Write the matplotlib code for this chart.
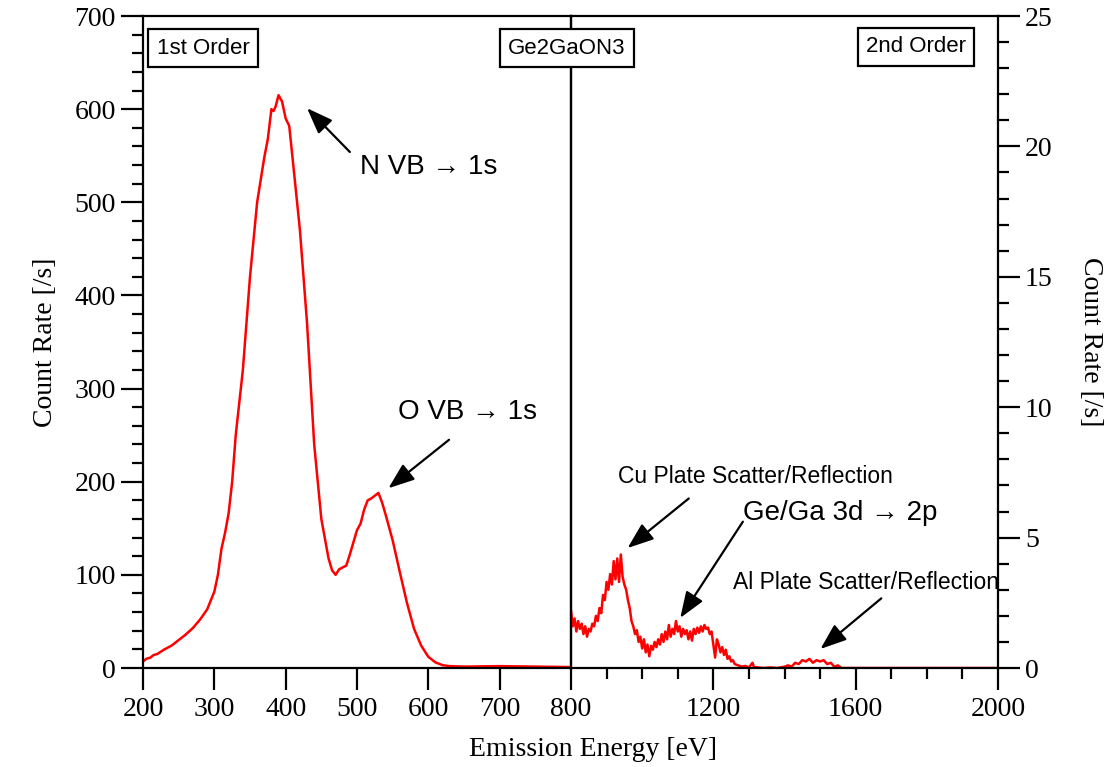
import matplotlib
matplotlib.use('Agg')
import matplotlib.pyplot as plt
from matplotlib.ticker import MultipleLocator, FixedLocator

# 1st order spectrum, read on the left axis (200-800 eV)
energy_1st = [200, 205, 210, 215, 220, 230, 240, 250, 260, 270, 280, 290, 300, 305, 310,
              315, 320, 325, 330, 340, 350, 360, 370, 375, 380, 383, 386, 390, 395, 400,
              405, 410, 420, 430, 440, 450, 460, 465, 470, 475, 480, 485, 490, 500, 505,
              510, 515, 520, 525, 530, 535, 540, 550, 560, 570, 580, 590, 600, 610, 620,
              630, 650, 700, 750, 800]
rate_1st = [7, 10, 11, 14, 15, 20, 24, 30, 36, 43, 52, 63, 82, 100, 128,
            145, 166, 200, 250, 320, 420, 500, 548, 568, 600, 598, 603, 615, 608, 590,
            582, 545, 470, 370, 240, 160, 118, 105, 100, 106, 108, 110, 122, 148, 155,
            170, 180, 182, 185, 188, 178, 165, 137, 103, 70, 42, 24, 12, 6, 3,
            2, 1.5, 2, 1.5, 1]

# 2nd order spectrum, read on the right axis (800-2000 eV)
energy_2nd = [800, 805, 810, 815, 820, 825, 830, 835, 840, 845, 850, 855, 860, 865, 870,
              875, 880, 885, 890, 895, 900, 905, 910, 915, 920, 925, 930, 935, 940, 945,
              950, 955, 960, 965, 970, 975, 980, 985, 990, 995, 1000, 1005, 1010, 1015, 1020,
              1025, 1030, 1035, 1040, 1045, 1050, 1055, 1060, 1065, 1070, 1075, 1080, 1085, 1090, 1095,
              1100, 1105, 1110, 1115, 1120, 1125, 1130, 1135, 1140, 1145, 1150, 1155, 1160, 1165, 1170,
              1175, 1180, 1185, 1190, 1195, 1200, 1205, 1210, 1215, 1220, 1225, 1230, 1235, 1240, 1245,
              1250, 1255, 1260, 1270, 1280, 1290, 1300, 1310, 1315, 1320, 1340, 1360, 1380, 1400, 1410,
              1420, 1430, 1440, 1450, 1460, 1470, 1480, 1490, 1500, 1510, 1520, 1530, 1540, 1550, 1560,
              1600, 2000]
rate_2nd = [2.2, 1.6, 1.9, 1.4, 1.8, 1.5, 1.7, 1.3, 1.6, 1.2, 1.5, 1.4, 1.7, 1.6, 2.0,
            1.8, 2.3, 2.1, 2.8, 2.6, 3.3, 3.0, 3.6, 3.2, 4.1, 3.4, 4.2, 3.3, 4.35, 3.5,
            3.2, 3.0, 2.6, 2.3, 1.8, 1.6, 1.3, 1.45, 1.0, 1.2, 0.75, 1.1, 0.6, 0.9, 0.45,
            0.85, 0.7, 1.0, 0.8, 1.1, 0.9, 1.3, 1.0, 1.4, 1.1, 1.65, 1.2, 1.5, 1.3, 1.8,
            1.4, 1.6, 1.2, 1.5, 1.3, 1.45, 1.1, 1.4, 1.05, 1.5, 1.3, 1.55, 1.35, 1.6, 1.4,
            1.65, 1.5, 1.55, 1.3, 1.4, 0.9, 0.4, 1.1, 0.9, 0.6, 0.8, 0.5, 0.7, 0.35, 0.45,
            0.25, 0.3, 0.15, 0.1, 0.05, 0.08, 0.02, 0.2, 0.0, 0.03, 0.0, 0.02, 0.0, 0.05, 0.1,
            0.05, 0.2, 0.15, 0.3, 0.25, 0.35, 0.2, 0.3, 0.25, 0.3, 0.15, 0.2, 0.05, 0.1, 0.0,
            0.0, 0.0]

# annotations: (text, text pos, arrow tail, arrow tip, fontsize)
notes_1st = [("N VB \u2192 1s", (504, 538), (490, 554), (430, 601), 20),
             ("O VB \u2192 1s", (558, 275), (629, 245), (544, 193), 20)]
notes_2nd = [("Cu Plate Scatter/Reflection", (931, 7.36), (1131, 6.5), (959, 4.6), 16.5),
             ("Ge/Ga 3d \u2192 2p", (1283, 5.94), (1283, 5.61), (1107, 1.92), 20),
             ("Al Plate Scatter/Reflection", (1254, 3.26), (1672, 2.67), (1501, 0.73), 16.5)]

serif = 'Liberation Serif'
sans = ['Liberation Sans', 'DejaVu Sans']
red = '#ff0000'

W, H = 1120, 767
fig = plt.figure(figsize=(W / 100, H / 100), dpi=100)
x0, xm, x1 = 143, 571, 998
ytop, ybot = 16, 668
ax1 = fig.add_axes([x0 / W, 1 - ybot / H, (xm - x0) / W, (ybot - ytop) / H])
ax2 = fig.add_axes([xm / W, 1 - ybot / H, (x1 - xm) / W, (ybot - ytop) / H])
ax2.patch.set_visible(False)

ax1.plot(energy_1st, rate_1st, color=red, lw=1.8)
ax2.plot(energy_2nd, rate_2nd, color=red, lw=1.8)

ax1.set_xlim(200, 800)
ax1.set_ylim(0, 700)
ax2.set_xlim(800, 2000)
ax2.set_ylim(0, 25)

for ax in (ax1, ax2):
    for s in ax.spines.values():
        s.set_linewidth(1.6)

ax1.xaxis.set_major_locator(MultipleLocator(100))
ax1.yaxis.set_major_locator(MultipleLocator(100))
ax1.yaxis.set_minor_locator(MultipleLocator(20))
ax1.tick_params(axis='both', which='major', direction='out', length=16, width=1.6,
                labelsize=20, top=False, right=False)
ax1.tick_params(axis='x', pad=5)
ax1.tick_params(axis='y', which='minor', direction='out', length=8, width=1.6)

ax2.xaxis.set_major_locator(FixedLocator([1200, 1600, 2000]))
ax2.xaxis.set_minor_locator(FixedLocator([900, 1000, 1100, 1300, 1400, 1500, 1700, 1800, 1900]))
ax2.yaxis.set_major_locator(MultipleLocator(5))
ax2.yaxis.set_minor_locator(MultipleLocator(1))
ax2.yaxis.tick_right()
ax2.tick_params(axis='both', which='major', direction='out', length=16, width=1.6,
                labelsize=20, left=False, top=False)
ax2.tick_params(axis='x', pad=5)
ax2.tick_params(axis='both', which='minor', direction='out', length=8, width=1.6,
                left=False, top=False)

for ax in (ax1, ax2):
    for lab in ax.get_xticklabels() + ax.get_yticklabels():
        lab.set_fontfamily(serif)

ax1.set_ylabel("Count Rate [/s]", fontsize=20, fontfamily=serif, labelpad=12)
ax2.yaxis.set_label_position('right')
ax2.set_ylabel("Count Rate [/s]", fontsize=20, fontfamily=serif, rotation=270, labelpad=36)
fig.text(593 / W, 1 - 750 / H, "Emission Energy [eV]", fontsize=20, fontfamily=serif,
         ha='center', va='center')

arrow = dict(arrowstyle='-|>,head_length=0.8,head_width=0.3', color='black', lw=1.6,
             mutation_scale=20, shrinkA=0, shrinkB=0)
for ax, notes in ((ax1, notes_1st), (ax2, notes_2nd)):
    for txt, tpos, tail, tip, fs in notes:
        ax.text(tpos[0], tpos[1], txt, fontsize=fs, fontfamily=sans, va='center', ha='left',
                clip_on=False, zorder=6)
        ax.annotate('', xy=tip, xytext=tail, arrowprops=arrow, annotation_clip=False)

box = dict(boxstyle='square,pad=0.38', facecolor='white', edgecolor='black', lw=1.6)
for txt, px, py in (("1st Order", 203, 48), ("Ge2GaON3", 567, 48), ("2nd Order", 916, 47)):
    fig.text(px / W, 1 - py / H, txt, fontsize=16, fontfamily=sans, ha='center', va='center',
             bbox=box, zorder=10)

fig.savefig('out.png', dpi=100)
